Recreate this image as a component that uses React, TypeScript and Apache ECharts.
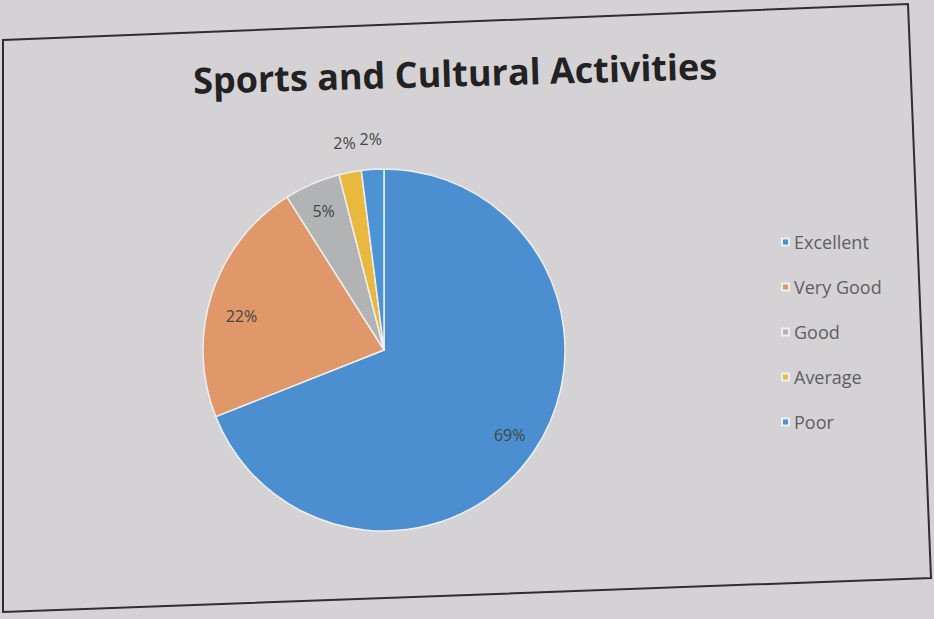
import React, { useEffect, useRef } from "react";
import * as echarts from "echarts";

const categories = ["Excellent", "Very Good", "Good", "Average", "Poor"];
const values = [69, 22, 5, 2, 2];
const colors = ["#4b8fd0", "#e0976a", "#b2b3b5", "#e8b93e", "#4c93d4"];
const labelPlacement = ["inside", "inside", "inside", "outside", "outside"];

export default function App() {
  const ref = useRef<HTMLDivElement>(null);
  useEffect(() => {
    if (!ref.current) return;
    const chart = echarts.init(ref.current, null, { renderer: "svg" });
    const cx = 384;
    const cy = 350;
    const R = 181;
    const labelFont = {
      fontFamily: "'Open Sans', sans-serif",
      fontSize: 16,
      color: "#3f4744",
    };
    chart.setOption({
      animation: false,
      backgroundColor: "#d5d2d5",
      color: colors,
      graphic: [
        {
          type: "polygon",
          shape: { points: [[3, 40], [908, 4], [931, 578], [3, 612]] },
          style: { fill: "none", stroke: "#2e2e2e", lineWidth: 2 },
          silent: true,
          z: 0,
        },
        {
          type: "text",
          x: 455,
          y: 73,
          rotation: 0.028,
          style: {
            text: "Sports and Cultural Activities",
            font: "bold 36px 'Open Sans', sans-serif",
            fill: "#222222",
            textAlign: "center",
            textVerticalAlign: "middle",
          },
          z: 10,
        },
      ],
      legend: {
        orient: "vertical",
        left: 776,
        top: 226,
        icon: "rect",
        itemWidth: 7,
        itemHeight: 7,
        itemGap: 23,
        data: categories,
        textStyle: {
          fontFamily: "'Open Sans', sans-serif",
          fontSize: 18,
          lineHeight: 22,
          color: "#5e5e62",
        },
      },
      series: [
        {
          type: "pie",
          center: [cx, cy],
          radius: R,
          startAngle: 90,
          clockwise: true,
          avoidLabelOverlap: false,
          itemStyle: { borderColor: "#eeeeee", borderWidth: 1.5 },
          label: { show: false },
          labelLine: { show: false },
          emphasis: { disabled: true },
          data: categories.map((name, i) => ({ name, value: values[i] })),
        },
        {
          type: "pie",
          center: [cx, cy],
          radius: [117, R],
          startAngle: 90,
          clockwise: true,
          silent: true,
          avoidLabelOverlap: false,
          itemStyle: { color: "rgba(0,0,0,0)", borderWidth: 0 },
          label: { show: true, position: "inside", formatter: "{d}%", ...labelFont },
          labelLine: { show: false },
          emphasis: { disabled: true },
          data: categories.map((name, i) => ({
            name: name + " ",
            value: values[i],
            label: {
              show: labelPlacement[i] === "inside",
              offset: name === "Very Good" ? [2, 13] : [0, 0],
            },
          })),
        },
        {
          type: "pie",
          center: [cx, cy],
          radius: [190, 226],
          startAngle: 90,
          clockwise: true,
          silent: true,
          avoidLabelOverlap: false,
          itemStyle: { color: "rgba(0,0,0,0)", borderWidth: 0 },
          label: { show: true, position: "inside", formatter: "{d}%", ...labelFont },
          labelLine: { show: false },
          emphasis: { disabled: true },
          data: categories.map((name, i) => ({
            name: name + "  ",
            value: values[i],
            label: { show: labelPlacement[i] === "outside" },
          })),
        },
      ],
    });
    return () => chart.dispose();
  }, []);
  return (
    <div
      ref={ref}
      style={{ position: "fixed", left: 0, top: 0, width: 934, height: 619 }}
    />
  );
}
